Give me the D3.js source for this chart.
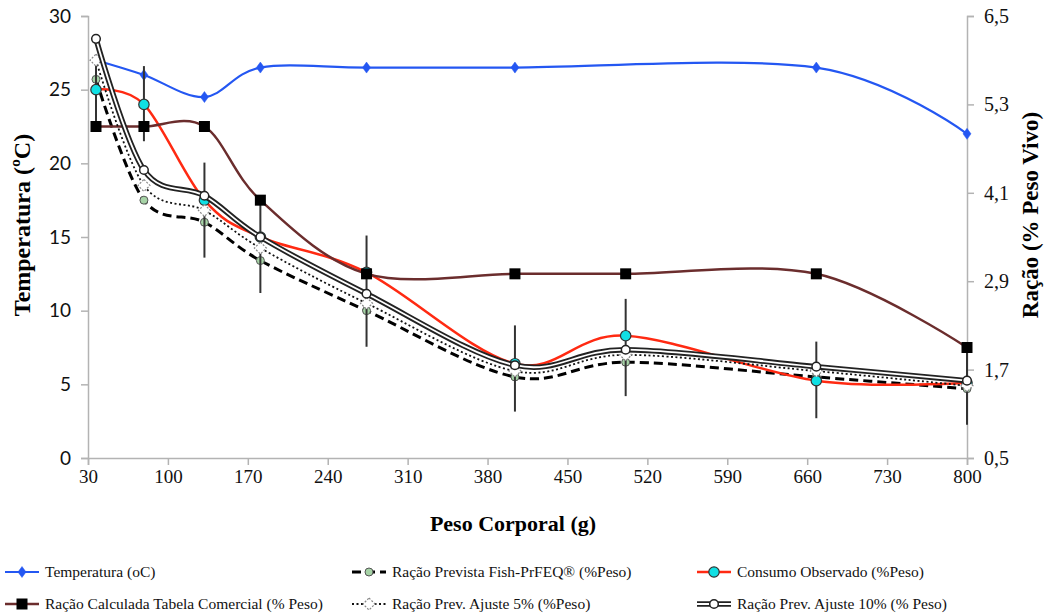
<!DOCTYPE html>
<html><head><meta charset="utf-8">
<script src="https://cdn.jsdelivr.net/npm/d3@7"></script>
<style>body{margin:0;background:#fff}svg{display:block}</style>
</head><body><svg id="c" width="1046" height="614"></svg>
<script>
// ---- data ----
const pesos = [37, 79, 132, 181, 274, 404, 501, 668, 800];
const temperatura = [27, 26, 24.5, 26.5, 26.5, 26.5, null, 26.5, 22];
const racaoPrevista = [5.64, 4.0, 3.7, 3.18, 2.5, 1.6, 1.8, 1.6, 1.44];
const consumoObservado = [5.5, 5.3, 4.0, 3.5, 3.02, 1.78, 2.16, 1.55, 1.52];
const racaoTabela = [5.0, 5.0, 5.0, 4.0, 3.0, 3.0, 3.0, 3.0, 2.0];
const ajuste5 = [5.9, 4.2, 3.86, 3.35, 2.6, 1.68, 1.9, 1.68, 1.48];
const ajuste10 = [6.19, 4.41, 4.06, 3.5, 2.73, 1.76, 1.97, 1.74, 1.55];
const erroBaixo = [5.0, 4.8, 3.22, 2.74, 2.01, 1.13, 1.34, 1.04, 0.95];
const erroAlto = [5.9, 5.82, 4.51, 4.0, 3.52, 2.3, 2.66, 2.08, 2.01];
const xTicks = [30, 100, 170, 240, 310, 380, 450, 520, 590, 660, 730, 800];
const yLeftTicks = [0, 5, 10, 15, 20, 25, 30];
const yRightTicks = [0.5, 1.7, 2.9, 4.1, 5.3, 6.5];
const legendLabels = ["Temperatura (oC)", "Ração Prevista Fish-PrFEQ®  (%Peso)", "Consumo Observado (%Peso)",
  "Ração Calculada Tabela Comercial (% Peso)", "Ração Prev. Ajuste 5% (%Peso)", "Ração Prev. Ajuste 10% (% Peso)"];

const svg = d3.select("#c");
const L = 88, R = 967, T = 16, B = 458;
const x = d3.scaleLinear().domain([30, 800]).range([L, R]);
const yL = d3.scaleLinear().domain([0, 30]).range([B, T]);
const yR = d3.scaleLinear().domain([0.5, 6.5]).range([B, T]);
const axisColor = "#b3b3b3";

// axes
const gx = svg.append("g").attr("transform", `translate(0,${B})`)
  .call(d3.axisBottom(x).tickValues(xTicks).tickSize(7).tickPadding(5).tickFormat(d3.format("d")));
const gl = svg.append("g").attr("transform", `translate(${L},0)`)
  .call(d3.axisLeft(yL).tickValues(yLeftTicks).tickSize(7).tickPadding(10));
const gr = svg.append("g").attr("transform", `translate(${R},0)`)
  .call(d3.axisRight(yR).tickValues(yRightTicks).tickSize(7).tickPadding(10).tickFormat(d => d3.format(".1f")(d).replace(".", ",")));
[gx, gl, gr].forEach(g => {
  g.select(".domain").attr("stroke", axisColor).attr("stroke-width", 1.5);
  g.selectAll(".tick line").attr("stroke", axisColor).attr("stroke-width", 1.5);
  g.selectAll("text").attr("fill", "#111");
});
gx.selectAll("text").attr("font-family", "Liberation Serif").attr("font-size", 19);
gl.selectAll("text").attr("font-family", "Lato").attr("font-size", 19);
gr.selectAll("text").attr("font-family", "Liberation Serif").attr("font-size", 20);

// titles
svg.append("text").attr("x", 513).attr("y", 531).attr("text-anchor", "middle")
  .attr("font-family", "Liberation Serif").attr("font-weight", "bold").attr("font-size", 22).text("Peso Corporal (g)");
svg.append("text").attr("transform", "translate(30,225) rotate(-90)").attr("text-anchor", "middle")
  .attr("font-family", "Liberation Serif").attr("font-weight", "bold").attr("font-size", 24).text("Temperatura (ºC)");
svg.append("text").attr("transform", "translate(1038,215) rotate(-90)").attr("text-anchor", "middle")
  .attr("font-family", "Liberation Serif").attr("font-weight", "bold").attr("font-size", 23).text("Ração (% Peso Vivo)");

const curve = d3.curveCatmullRom.alpha(0);
function pts(arr, sc) { return pesos.map((p, i) => [p, arr[i]]).filter(d => d[1] != null).map(d => [x(d[0]), sc(d[1])]); }
const line = d3.line().curve(curve);

const plot = svg.append("g");
function diamond(g, cx, cy, w, h, fill, stroke, sw, dash) {
  g.append("path").attr("d", `M${cx},${cy - h}L${cx + w},${cy}L${cx},${cy + h}L${cx - w},${cy}Z`)
    .attr("fill", fill).attr("stroke", stroke).attr("stroke-width", sw).attr("stroke-dasharray", dash || null);
}

const series = [
  { key: "temp", data: temperatura, sc: yL },
  { key: "prev", data: racaoPrevista, sc: yR },
  { key: "cons", data: consumoObservado, sc: yR },
  { key: "tab", data: racaoTabela, sc: yR },
  { key: "aj5", data: ajuste5, sc: yR },
  { key: "aj10", data: ajuste10, sc: yR }
];

function drawLine(g, key, p) {
  const d = line(p);
  if (key === "temp") g.append("path").attr("d", d).attr("fill", "none").attr("stroke", "#2457f2").attr("stroke-width", 2.2);
  if (key === "prev") g.append("path").attr("d", d).attr("fill", "none").attr("stroke", "#000").attr("stroke-width", 3).attr("stroke-dasharray", "9,5");
  if (key === "cons") g.append("path").attr("d", d).attr("fill", "none").attr("stroke", "#ff2a12").attr("stroke-width", 2.5);
  if (key === "tab") g.append("path").attr("d", d).attr("fill", "none").attr("stroke", "#6b2d2d").attr("stroke-width", 2.5);
  if (key === "aj5") g.append("path").attr("d", d).attr("fill", "none").attr("stroke", "#111").attr("stroke-width", 1.8).attr("stroke-dasharray", "2,2.5");
  if (key === "aj10") {
    g.append("path").attr("d", d).attr("fill", "none").attr("stroke", "#222").attr("stroke-width", 5.5);
    g.append("path").attr("d", d).attr("fill", "none").attr("stroke", "#fff").attr("stroke-width", 1.8);
  }
}
function drawMarker(g, key, cx, cy) {
  if (key === "temp") diamond(g, cx, cy, 4, 5.5, "#2457f2", "#2457f2", 0.5);
  if (key === "prev") g.append("circle").attr("cx", cx).attr("cy", cy).attr("r", 4).attr("fill", "#a6d3a6").attr("stroke", "#555").attr("stroke-width", 1);
  if (key === "cons") g.append("circle").attr("cx", cx).attr("cy", cy).attr("r", 5.2).attr("fill", "#10e0e4").attr("stroke", "#333").attr("stroke-width", 1.2);
  if (key === "tab") g.append("rect").attr("x", cx - 5.5).attr("y", cy - 5.5).attr("width", 11).attr("height", 11).attr("fill", "#000");
  if (key === "aj5") diamond(g, cx, cy, 6, 6, "#fff", "#888", 1.2, "2,1.5");
  if (key === "aj10") g.append("circle").attr("cx", cx).attr("cy", cy).attr("r", 4.3).attr("fill", "#fff").attr("stroke", "#222").attr("stroke-width", 1.5);
}

series.forEach(s => {
  const g = plot.append("g");
  const p = pts(s.data, s.sc);
  drawLine(g, s.key, p);
  if (s.key === "cons") {
    pesos.forEach((pv, i) => {
      g.append("line").attr("x1", x(pv)).attr("x2", x(pv)).attr("y1", yR(erroBaixo[i])).attr("y2", yR(erroAlto[i]))
        .attr("stroke", "#333").attr("stroke-width", 2);
    });
  }
  p.forEach(d => drawMarker(g, s.key, d[0], d[1]));
});

// legend
const lg = svg.append("g");
const legendPos = [[5, 572], [352, 572], [697, 572], [5, 604], [352, 604], [697, 604]];
const legendKeys = ["temp", "prev", "cons", "tab", "aj5", "aj10"];
legendKeys.forEach((k, i) => {
  const [lx, ly] = legendPos[i];
  const g = lg.append("g");
  drawLine(g, k, [[lx, ly], [lx + 34, ly]]);
  drawMarker(g, k, lx + 17, ly);
  g.append("text").attr("x", lx + 40).attr("y", ly + 5).attr("font-family", "Liberation Serif").attr("font-size", 15.5)
    .attr("fill", "#111").text(legendLabels[i]);
});
</script></body></html>
